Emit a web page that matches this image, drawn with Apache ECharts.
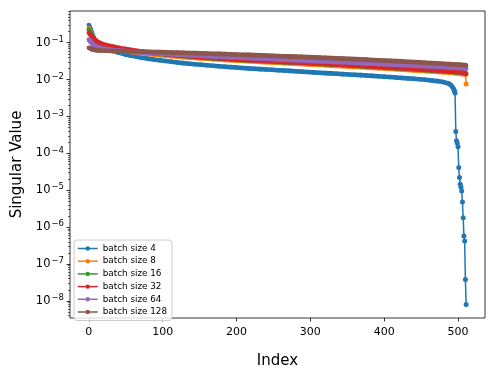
<!DOCTYPE html>
<html>
<head>
<meta charset="utf-8">
<script src="https://cdn.jsdelivr.net/npm/echarts@6/dist/echarts.min.js"></script>
<style>
  html, body { margin: 0; padding: 0; background: #fff; }
  #chart { width: 498px; height: 374px; }
</style>
</head>
<body>
<div id="chart"></div>
<script type="text/javascript">
// 横轴: 奇异值序号 (batch size 8 ~ 128 共用)
var idxShared = [0,1,2,3,4,5,6,7,8,10,12,14,
    16,24,32,40,48,56,64,72,80,88,
    96,104,112,120,128,136,144,152,160,168,
    176,184,192,200,208,216,224,232,240,248,
    256,264,272,280,288,296,304,312,320,328,
    336,344,352,360,368,376,384,392,400,408,
    416,424,432,440,448,456,464,472,480,488,
    496,500,504,508,510,511]
// batch size 4 的序号, 主体部分
var idx4 = [0,1,2,3,4,5,6,7,8,10,12,14,
    16,24,32,40,48,56,64,72,80,88,
    96,104,112,120,128,136,144,152,160,168,
    176,184,192,200,208,216,224,232,240,248,
    256,264,272,280,288,296,304,312,320,328,
    336,344,352,360,368,376,384,392,400,408,
    416,424,432,440,448,456,464,472,480,488,
    490,492,494,495]
// batch size 4 尾部 (逐点, 急剧下降)
var idx4Tail = [495,496,497,498,499,500,501,502,503,504,505,506,507,508,509,510,511]

var sv4 = [0.3,0.27,0.24,0.21,0.185,0.165,0.145,0.13,0.118,0.1,0.09,0.084,
    0.08,0.068,0.06,0.054,0.049,0.045,0.042,0.039,0.037,0.035,
    0.0335,0.032,0.0305,0.0292,0.028,0.027,0.026,0.0252,0.0244,0.0237,
    0.023,0.0224,0.0218,0.0212,0.0207,0.0202,0.0197,0.0192,0.0188,0.0184,
    0.018,0.0176,0.0172,0.0168,0.0164,0.016,0.0157,0.0153,0.015,0.0147,
    0.0144,0.0141,0.0138,0.0135,0.0132,0.0129,0.0126,0.0123,0.012,0.0117,
    0.0114,0.0111,0.0108,0.0105,0.0102,0.0099,0.0095,0.0091,0.0086,0.0077,
    0.0072,0.0065,0.0056,0.005]
var sv4Tail = [0.005,0.0043,3.9e-4,2.2e-4,1.9e-4,1.5e-4,4.1e-5,2.2e-5,1.45e-5,1.2e-5,9.5e-6,4.8e-6,1.8e-6,5.7e-7,4.2e-7,3.8e-8,8e-9]

var sv8 = [0.25,0.225,0.2,0.178,0.16,0.145,0.132,0.121,0.112,0.099,0.092,0.087,
    0.083,0.074,0.068,0.063,0.059,0.0563,0.0538,0.0515,0.0495,0.0477,
    0.046,0.0445,0.0431,0.0418,0.0406,0.0395,0.0385,0.0375,0.0366,0.0357,
    0.0349,0.0341,0.0334,0.0327,0.032,0.0314,0.0308,0.0302,0.0296,0.029,
    0.0285,0.028,0.0274,0.0269,0.0264,0.0259,0.0254,0.0249,0.0244,0.0239,
    0.0234,0.023,0.0225,0.0221,0.0216,0.0212,0.0207,0.0203,0.0199,0.0195,
    0.019,0.0186,0.0182,0.0178,0.0174,0.017,0.0166,0.0162,0.0158,0.0154,
    0.0149,0.0146,0.0143,0.0139,0.0136,0.0076]

var sv16 = [0.23,0.21,0.19,0.17,0.153,0.14,0.128,0.118,0.11,0.099,0.093,0.088,
    0.086,0.078,0.072,0.067,0.063,0.06,0.0575,0.0553,0.0535,0.0516,
    0.0498,0.048,0.0464,0.0449,0.0435,0.0422,0.0411,0.04,0.0389,0.0379,
    0.037,0.0362,0.0353,0.0345,0.0338,0.0331,0.0325,0.0319,0.0314,0.0308,
    0.0302,0.0297,0.0291,0.0286,0.0281,0.0276,0.0271,0.0267,0.0262,0.0257,
    0.0252,0.0247,0.0242,0.0237,0.0232,0.0227,0.0222,0.0218,0.0213,0.0208,
    0.0204,0.0199,0.0194,0.019,0.0185,0.0181,0.0176,0.0172,0.0168,0.0164,
    0.0159,0.0157,0.0154,0.015,0.0147,0.0142]

var sv32 = [0.19,0.178,0.166,0.156,0.147,0.139,0.132,0.126,0.121,0.112,0.105,0.1,
    0.096,0.086,0.079,0.073,0.068,0.064,0.0605,0.0575,0.055,0.0528,
    0.0508,0.049,0.0473,0.0458,0.0444,0.0431,0.0419,0.0408,0.0397,0.0387,
    0.0378,0.0369,0.036,0.0352,0.0345,0.0338,0.0332,0.0326,0.032,0.0314,
    0.0308,0.0303,0.0297,0.0292,0.0287,0.0282,0.0277,0.0272,0.0267,0.0262,
    0.0257,0.0252,0.0247,0.0242,0.0237,0.0232,0.0227,0.0222,0.0217,0.0212,
    0.0208,0.0203,0.0198,0.0194,0.0189,0.0185,0.018,0.0176,0.0171,0.0167,
    0.0162,0.016,0.0157,0.0153,0.015,0.0145]

var sv64 = [0.122,0.115,0.108,0.102,0.097,0.093,0.089,0.086,0.083,0.079,0.076,0.074,
    0.072,0.067,0.0635,0.061,0.059,0.0572,0.0556,0.0542,0.0529,0.0517,
    0.0506,0.0495,0.0485,0.0475,0.0466,0.0457,0.0449,0.0441,0.0433,0.0425,
    0.0418,0.0411,0.0404,0.0397,0.039,0.0384,0.0378,0.0372,0.0366,0.036,
    0.0354,0.0348,0.0343,0.0337,0.0332,0.0327,0.0321,0.0316,0.0311,0.0306,
    0.0301,0.0296,0.0291,0.0286,0.0281,0.0276,0.0272,0.0267,0.0262,0.0258,
    0.0253,0.0249,0.0244,0.024,0.0236,0.0231,0.0227,0.0223,0.0219,0.0215,
    0.021,0.0208,0.0206,0.0203,0.0201,0.0196]

var sv128 = [0.073,0.0715,0.07,0.0685,0.0672,0.066,0.065,0.0642,0.0636,0.0628,0.0622,0.0617,
    0.0613,0.0603,0.0597,0.0592,0.0588,0.0583,0.0578,0.0573,0.0568,0.0562,
    0.0557,0.0551,0.0545,0.0539,0.0533,0.0527,0.0521,0.0515,0.0509,0.0503,
    0.0497,0.0491,0.0485,0.0479,0.0473,0.0467,0.0461,0.0455,0.0449,0.0443,
    0.0437,0.0431,0.0425,0.0419,0.0413,0.0407,0.0401,0.0395,0.0389,0.0383,
    0.0377,0.0371,0.0365,0.0359,0.0353,0.0347,0.0341,0.0335,0.0329,0.0323,
    0.0317,0.0311,0.0305,0.0299,0.0293,0.0287,0.0281,0.0275,0.0269,0.0263,
    0.0257,0.0254,0.0251,0.0248,0.0246,0.0242]

var seriesNames = ['batch size 4', 'batch size 8', 'batch size 16', 'batch size 32', 'batch size 64', 'batch size 128']
var colors = ['#1f77b4', '#ff7f0e', '#2ca02c', '#d62728', '#9467bd', '#8c564b']
var xTicks = [0, 100, 200, 300, 400, 500]
var yTicks = [1e-8, 1e-7, 1e-6, 1e-5, 1e-4, 1e-3, 1e-2, 1e-1]

var seriesX = [idx4, idxShared, idxShared, idxShared, idxShared, idxShared]
var seriesY = [sv4, sv8, sv16, sv32, sv64, sv128]

// 对数坐标的次刻度 2..9 x 10^k
var yMin = Math.pow(10, -8.465), yMax = Math.pow(10, -0.14)
var minorTicks = []
for (var e = -9; e <= 0; e++) {
    for (var k = 2; k <= 9; k++) {
        var v = k * Math.pow(10, e)
        if (v > yMin && v < yMax) minorTicks.push(v)
    }
}

function toPairs(xs, ys) {
    return xs.map(function (x, j) { return [x, ys[j]] })
}

var font = 'DejaVu Sans'
var chart = echarts.init(document.getElementById('chart'), null, { renderer: 'canvas' })

// 密集的点连成粗带, 用粗线表示
var series = seriesNames.map(function (name, i) {
    var xs = seriesX[i], ys = seriesY[i]
    if (i === 1) { xs = xs.slice(0, -1); ys = ys.slice(0, -1) }
    return {
        name: name,
        type: 'line',
        color: colors[i],
        symbol: 'circle',
        symbolSize: 4.6,
        lineStyle: { width: 4.6, color: colors[i], join: 'round' },
        itemStyle: { color: colors[i] },
        emphasis: { disabled: true },
        z: 2 + i,
        data: toPairs(xs, ys)
    }
})
// 尾部稀疏点: 细线 + 点
series.push({
    name: seriesNames[0], type: 'line', color: colors[0],
    symbol: 'circle', symbolSize: 5,
    lineStyle: { width: 1.5, color: colors[0] },
    itemStyle: { color: colors[0] },
    emphasis: { disabled: true }, z: 2,
    data: toPairs(idx4Tail, sv4Tail)
})
series.push({
    name: seriesNames[1], type: 'line', color: colors[1],
    symbol: 'circle', symbolSize: 5,
    lineStyle: { width: 1.5, color: colors[1] },
    itemStyle: { color: colors[1] },
    emphasis: { disabled: true }, z: 3,
    data: toPairs(idxShared.slice(-2), sv8.slice(-2))
})

var option = {
    animation: false,
    backgroundColor: '#fff',
    textStyle: { fontFamily: font },
    grid: {
        left: 70, right: 13, top: 11, bottom: 53,
        show: true, borderColor: '#000', borderWidth: 0.8, backgroundColor: '#fff'
    },
    legend: {
        orient: 'vertical',
        left: 74, top: 240,
        padding: [4, 5, 4, 3],
        itemWidth: 20, itemHeight: 5.5, itemGap: 3.7,
        lineStyle: { width: 1.5 },
        backgroundColor: 'rgba(255,255,255,0.8)',
        borderColor: '#cccccc', borderWidth: 1, borderRadius: 3,
        textStyle: { fontFamily: font, fontSize: 8.8, color: '#000' },
        data: seriesNames
    },
    xAxis: {
        type: 'value',
        min: -25.55, max: 536.55,
        name: 'Index', nameLocation: 'middle', nameGap: 36,
        nameTextStyle: { fontFamily: font, fontSize: 15, color: '#000' },
        axisLine: { show: false, onZero: false },
        splitLine: { show: false },
        axisTick: { show: true, length: 3.5, lineStyle: { color: '#000', width: 0.8 }, customValues: xTicks },
        axisLabel: { customValues: xTicks, margin: 9, fontFamily: font, fontSize: 11, color: '#000' }
    },
    yAxis: [{
        type: 'log', logBase: 10,
        min: yMin, max: yMax,
        name: 'Singular Value', nameLocation: 'middle', nameGap: 45,
        nameTextStyle: { fontFamily: font, fontSize: 15, color: '#000' },
        axisLine: { show: false, onZero: false },
        splitLine: { show: false },
        axisTick: { show: true, length: 3.5, lineStyle: { color: '#000', width: 0.8 }, customValues: yTicks },
        axisLabel: {
            customValues: yTicks, margin: 6, color: '#000',
            formatter: function (val) {
                var p = Math.round(Math.log10(val))
                return '{b|10}{s|\u2212' + (-p) + '}'
            },
            rich: {
                b: { fontFamily: font, fontSize: 11.5, color: '#000', lineHeight: 15 },
                s: { fontFamily: font, fontSize: 8.5, color: '#000', verticalAlign: 'top', lineHeight: 9, padding: [0, 0, 0, 1] }
            }
        }
    }, {
        type: 'log', logBase: 10,
        min: yMin, max: yMax,
        position: 'left',
        axisLine: { show: false, onZero: false },
        splitLine: { show: false },
        axisLabel: { show: false },
        axisTick: { show: true, length: 2, lineStyle: { color: '#000', width: 0.6 }, customValues: minorTicks }
    }],
    series: series
}
chart.setOption(option)
window.addEventListener('resize', () => {
    chart.resize()
})
</script>
</body>
</html>
